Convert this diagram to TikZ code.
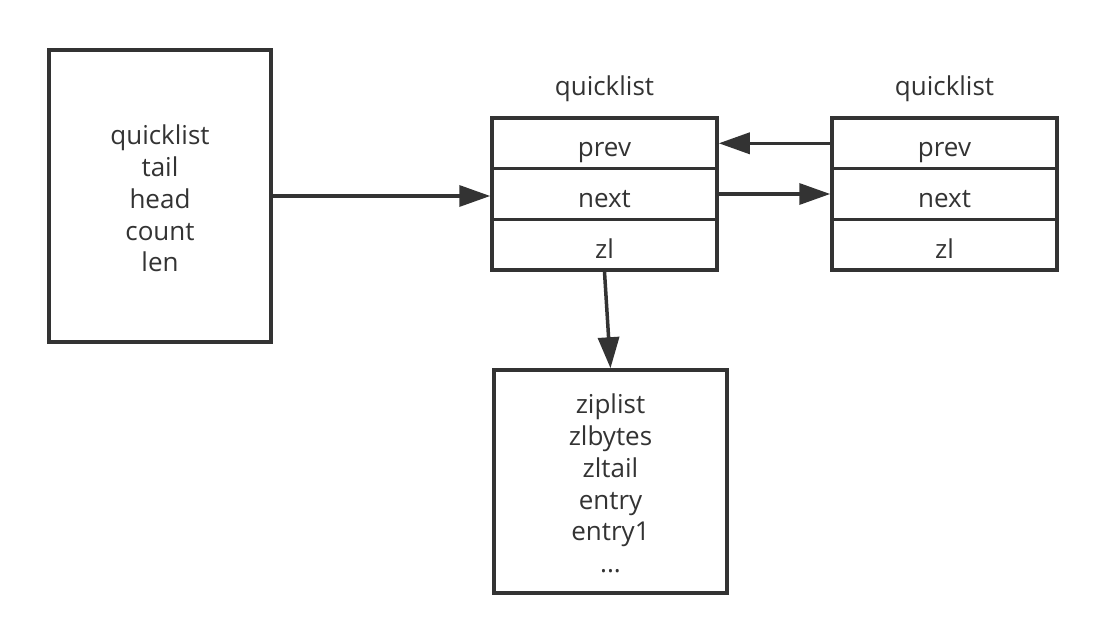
\documentclass[tikz,border=0pt]{standalone}
\usepackage{fontspec}
\setmainfont{Open Sans}
\usetikzlibrary{arrows.meta}
\definecolor{darkline}{HTML}{333333}
\begin{document}
\begin{tikzpicture}[x=1pt,y=-1pt]
\tikzstyle{every node}=[draw=darkline,line width=3.5pt,text=darkline,fill=white,font=\fontsize{26}{31.75}\selectfont]
\tikzstyle{row}=[rectangle,minimum width=225pt,minimum height=50.67pt,text height=28pt,text depth=1pt]
\tikzstyle{link}=[draw=darkline,line width=3.5pt,-{Triangle[length=31pt,width=21pt]}]
\useasboundingbox (0,0) rectangle (1106,644);
\node[rectangle,minimum width=222pt,minimum height=292pt,align=center](ql) at (160,196) {\rule{0pt}{25pt}quicklist\\tail\\head\\count\\len};
\node[draw=none,fill=none,anchor=base](lab1) at (604.5,96) {quicklist};
\node[row](prev1) at (604.5,143.3) {prev};
\node[row](next1) at (604.5,194) {next};
\node[row](zl1) at (604.5,244.7) {zl};
\node[draw=none,fill=none,anchor=base](lab2) at (944.5,96) {quicklist};
\node[row](prev2) at (944.5,143.3) {prev};
\node[row](next2) at (944.5,194) {next};
\node[row](zl2) at (944.5,244.7) {zl};
\node[rectangle,minimum width=233pt,minimum height=223pt,align=center](zip) at (610.5,481.5) {\rule{0pt}{24pt}ziplist\\zlbytes\\zltail\\entry\\entry1\\...};
\draw[link] (ql.east) -- (ql.east -| next1.west);
\draw[link] (prev2.west) -- (prev1.east);
\draw[link] (next1.east) -- (next2.west);
\draw[link] (zl1.south) -- (zip.north);
\end{tikzpicture}
\end{document}
